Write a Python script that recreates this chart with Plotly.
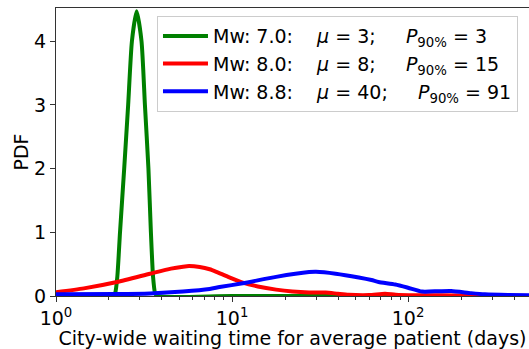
import plotly.graph_objects as go

# Waiting time (days) and PDF values
green_x = [1.0, 2.11, 2.17, 2.23, 2.31, 2.44, 2.57, 2.70, 2.87, 3.06, 3.20, 3.35, 3.46, 3.56, 3.65, 3.75, 10.0, 100.0, 500.0]
green_y = [0.0, 0.0, 0.05, 0.3, 1.0, 2.0, 3.0, 4.0, 4.47, 4.0, 3.0, 2.0, 1.0, 0.3, 0.05, 0.0, 0.0, 0.0, 0.0]

red_x = [1.0, 1.44, 2.22, 3.42, 4.5, 5.27, 5.7, 6.55, 7.46, 8.14, 9.5, 11.5, 14.0, 17.8, 22.0, 27.4, 34.0, 40.0, 46.0, 60.0, 74.0, 85.0, 110.0, 150.0, 250.0, 500.0]
red_y = [0.06, 0.12, 0.22, 0.35, 0.43, 0.46, 0.47, 0.455, 0.42, 0.38, 0.30, 0.21, 0.15, 0.10, 0.07, 0.055, 0.055, 0.035, 0.02, 0.015, 0.035, 0.02, 0.012, 0.01, 0.005, 0.0]

blue_x = [1.0, 2.2, 3.42, 5.27, 7.46, 8.5, 11.5, 17.8, 27.4, 30.0, 38.8, 52.5, 62.0, 68.0, 84.7, 100.0, 120.0, 150.0, 176.0, 228.0, 273.0, 370.0, 500.0]
blue_y = [0.027, 0.03, 0.04, 0.07, 0.11, 0.14, 0.20, 0.30, 0.375, 0.38, 0.35, 0.29, 0.25, 0.22, 0.18, 0.13, 0.07, 0.075, 0.078, 0.045, 0.027, 0.015, 0.01]

nb = "\u00a0"
names = [
    "Mw: 7.0:" + nb * 4 + "<i>μ</i> = 3;" + nb * 5 + "<i>P</i><sub>90%</sub> = 3",
    "Mw: 8.0:" + nb * 4 + "<i>μ</i> = 8;" + nb * 5 + "<i>P</i><sub>90%</sub> = 15",
    "Mw: 8.8:" + nb * 4 + "<i>μ</i> = 40;" + nb * 5 + "<i>P</i><sub>90%</sub> = 91",
]
colors = ["#008000", "#ff0000", "#0000ff"]

x_tickvals = [1, 10, 100]
x_ticktext = ["10<sup>0</sup>", "10<sup>1</sup>", "10<sup>2</sup>"]
y_tickvals = [0, 1, 2, 3, 4]

fig = go.Figure()
for xs, ys, nm, c in [(green_x, green_y, names[0], colors[0]),
                      (red_x, red_y, names[1], colors[1]),
                      (blue_x, blue_y, names[2], colors[2])]:
    fig.add_trace(go.Scatter(x=xs, y=ys, mode="lines", name=nm,
                             line=dict(color=c, width=4, shape="spline", smoothing=0.6)))

minor_vals = [m * d for d in (1, 10, 100) for m in range(2, 10)]

fig.update_layout(
    width=529, height=349,
    margin=dict(l=56, r=0, t=8, b=53),
    paper_bgcolor="white", plot_bgcolor="white",
    font=dict(family="DejaVu Sans", size=19, color="black"),
    showlegend=True,
    legend=dict(x=0.2135, y=0.972, xanchor="left", yanchor="top",
                bgcolor="rgba(255,255,255,0.8)", bordercolor="#cccccc", borderwidth=1,
                font=dict(size=19), itemwidth=45, tracegroupgap=0),
    xaxis=dict(type="log", range=[0, 2.687],
               tickvals=x_tickvals, ticktext=x_ticktext,
               ticks="outside", ticklen=5, tickwidth=1, tickcolor="#333",
               tickfont=dict(size=19),
               minor=dict(tickvals=minor_vals, ticks="outside", ticklen=3, tickwidth=0.8, tickcolor="#333"),
               showline=True, linecolor="#333", linewidth=1, mirror=True,
               showgrid=False, zeroline=False,
               title=dict(text="City-wide waiting time for average patient (days)", standoff=4,
                          font=dict(size=19)),
               automargin=False),
    yaxis=dict(range=[0, 4.52], tickvals=y_tickvals,
               ticks="outside", ticklen=5, tickwidth=1, tickcolor="#333",
               tickfont=dict(size=19),
               showline=True, linecolor="#333", linewidth=1, mirror=False,
               showgrid=False, zeroline=False,
               title=dict(text="PDF", standoff=0, font=dict(size=19)),
               automargin=False),
)

fig.write_html("out.html", config={"displayModeBar": False},
               post_script="document.body.style.margin='0';document.body.style.padding='0';")
